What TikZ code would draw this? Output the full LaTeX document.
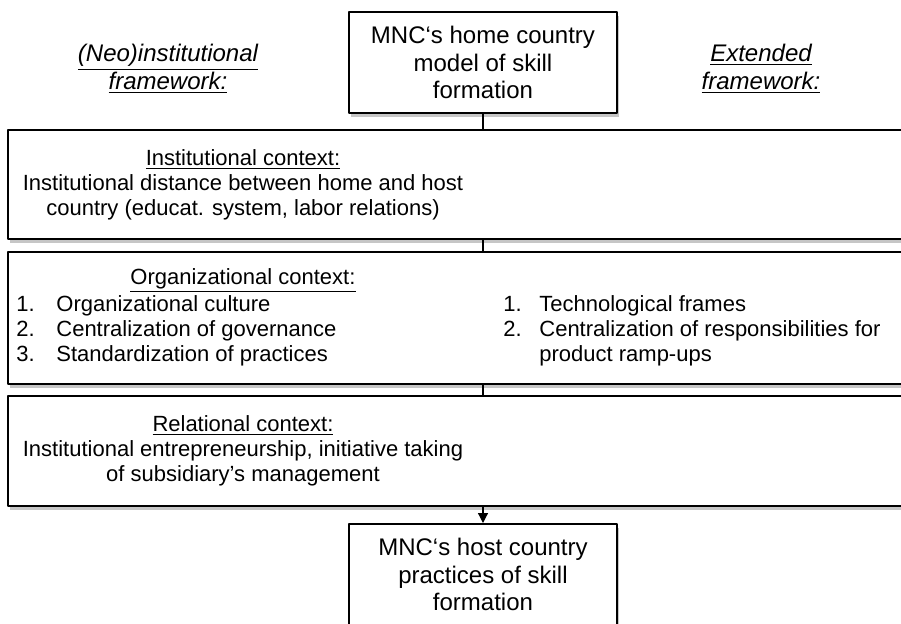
\documentclass[tikz,border=0pt]{standalone}
\usepackage{fontspec}
\setmainfont{Liberation Sans}
\usetikzlibrary{shadows,arrows.meta}
\begin{document}
\begin{tikzpicture}[x=0.5pt,y=-0.5pt, line join=round, line cap=round,
    box/.style={draw, line width=1pt, fill=white, inner sep=0pt,
      drop shadow={shadow xshift=1.2pt, shadow yshift=-1.8pt, opacity=.45}},
    endbox/.style={box, minimum width=134pt, minimum height=50.5pt, align=center,
      font=\fontsize{12}{13.8}\selectfont},
    ctxbox/.style={box, minimum width=451pt},
    txt/.style={align=center, inner sep=0pt, font=\fontsize{11}{12.5}\selectfont},
    lst/.style={txt, align=left, anchor=west},
    head/.style={align=center, inner sep=0pt, font=\fontsize{12}{13.8}\selectfont\itshape},
    link/.style={line width=0.6pt}]
    \useasboundingbox (0,0) rectangle (901,623);
    \clip (0,0) rectangle (901,623);
    \node[head] (neo) at (168,69) {\underline{(Neo)institutional}\\\underline{framework:}};
    \node[head] (ext) at (761,69) {\underline{Extended}\\\underline{framework:}};
    \node[endbox] (home) at (483,62.5) {MNC‘s home country\\model of skill\\formation};
    \node[ctxbox, minimum height=54.5pt] (inst) at (459,184.5) {};
    \node[txt] (insttxt) at (243,184.5) {\underline{Institutional context:}\\Institutional distance between home and host\\country (educat. system, labor relations)};
    \node[ctxbox, minimum height=66pt] (org) at (459,318) {};
    \node[txt] (orgtxt) at (243,280.5) {\underline{Organizational context:}};
    \node[lst] (orgleft) at (16,330.5) {\makebox[20pt][l]{1.}Organizational culture\\\makebox[20pt][l]{2.}Centralization of governance\\\makebox[20pt][l]{3.}Standardization of practices};
    \node[lst] (orgright) at (503,330.5) {\makebox[18pt][l]{1.}Technological frames\\\makebox[18pt][l]{2.}Centralization of responsibilities for\\\makebox[18pt][l]{}product ramp-ups};
    \node[ctxbox, minimum height=55pt] (rel) at (459,451) {};
    \node[txt] (reltxt) at (243,451) {\underline{Relational context:}\\Institutional entrepreneurship, initiative taking\\of subsidiary’s management};
    \node[endbox] (host) at (483,574.5) {MNC‘s host country\\practices of skill\\formation};
    \draw[link] (home.south) -- (home.south |- inst.north);
    \draw[link] (home.south |- inst.south) -- (home.south |- org.north);
    \draw[link] (home.south |- org.south) -- (home.south |- rel.north);
    \draw[link, -{Triangle[length=5pt,width=5pt]}] (host.north |- rel.south) -- (host.north);
\end{tikzpicture}
\end{document}
